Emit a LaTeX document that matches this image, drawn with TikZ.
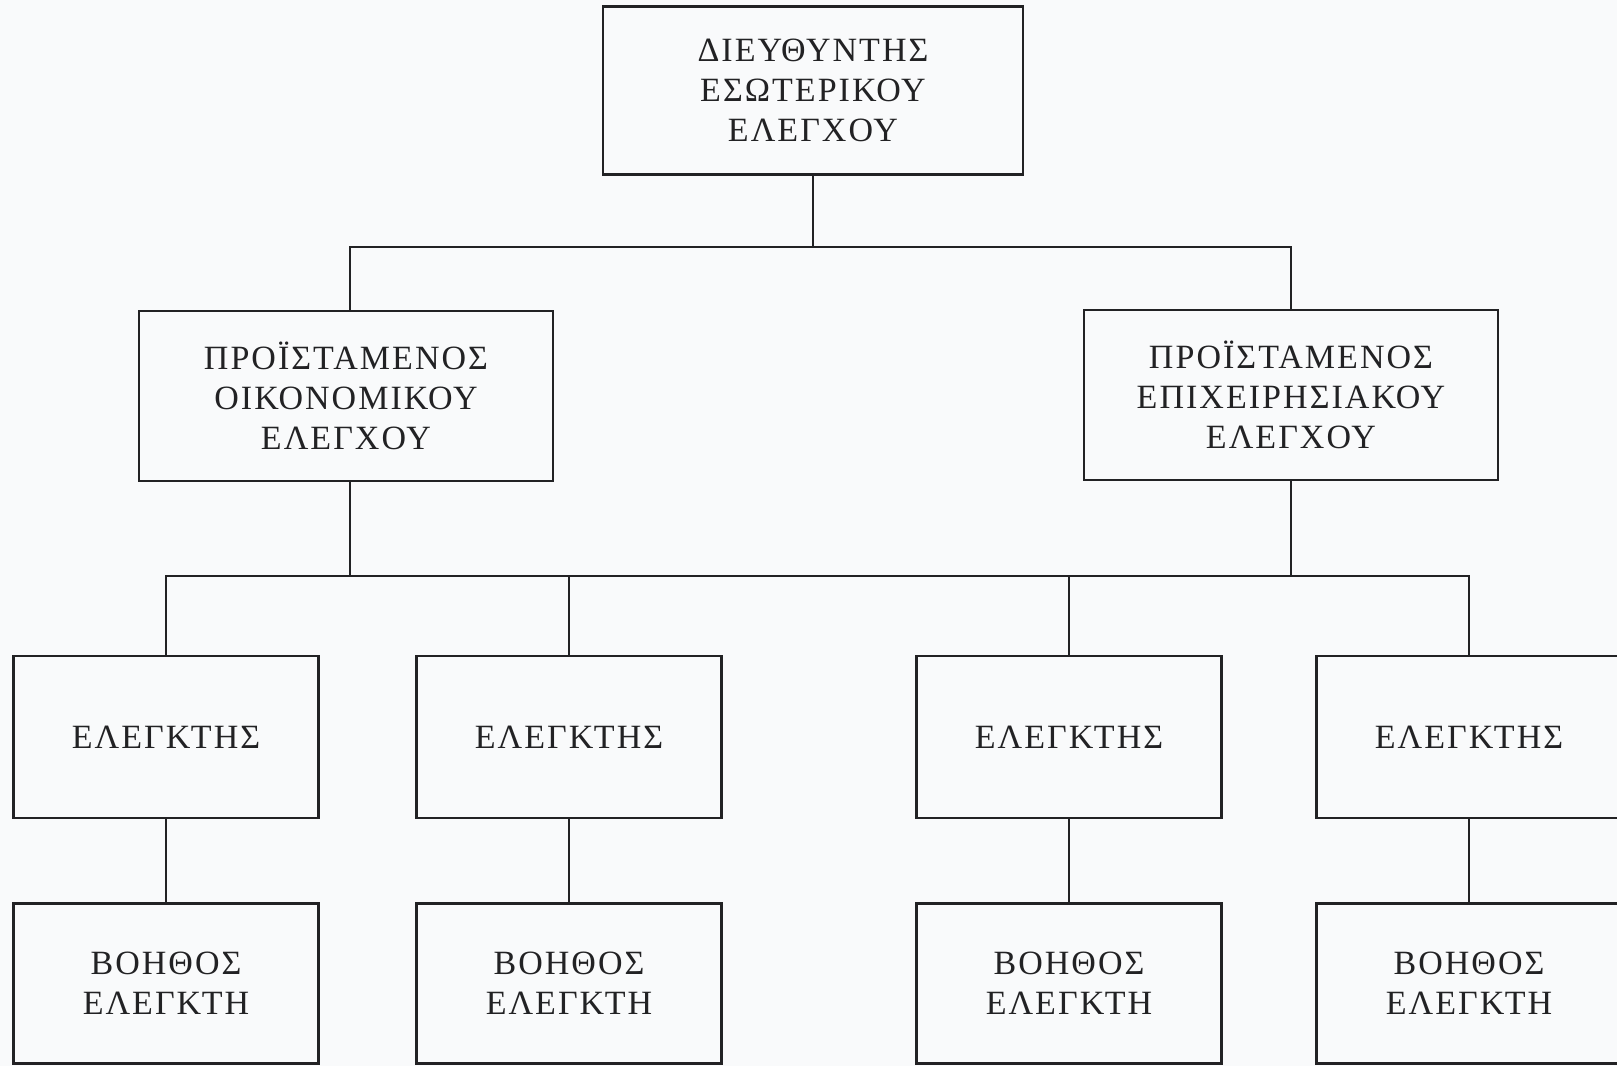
\documentclass[tikz,border=0pt]{standalone}
\usepackage{fontspec}
\setmainfont{Liberation Serif}[LetterSpace=6]

\definecolor{ink}{RGB}{34,34,36}
\definecolor{paper}{RGB}{249,250,251}
\tikzset{
  box/.style={draw=ink, line width=1.1pt, align=center, inner sep=0pt,
    text=ink, font=\fontsize{17}{19.9}\selectfont},
  headbox/.style={box, minimum width=210pt, minimum height=84pt},
  chiefbox/.style={box, minimum width=207pt, minimum height=85pt},
  auditbox/.style={box, minimum width=152.5pt, minimum height=81pt},
  helpbox/.style={box, minimum width=152.5pt, minimum height=80pt}
}

\begin{document}
\begin{tikzpicture}[x=0.5pt,y=-0.5pt]
    \clip (0,0) rectangle (1617,1066);
    \fill[paper] (0,0) rectangle (1617,1066);
    % head and the two chiefs
    \node[headbox] (dir) at (813,90.5) {ΔΙΕΥΘΥΝΤΗΣ\\ΕΣΩΤΕΡΙΚΟΥ\\ΕΛΕΓΧΟΥ};
    \node[chiefbox] (fin) at (346,396) {ΠΡΟΪΣΤΑΜΕΝΟΣ\\ΟΙΚΟΝΟΜΙΚΟΥ\\ΕΛΕΓΧΟΥ};
    \node[chiefbox] (ops) at (1291,395) {ΠΡΟΪΣΤΑΜΕΝΟΣ\\ΕΠΙΧΕΙΡΗΣΙΑΚΟΥ\\ΕΛΕΓΧΟΥ};
    % auditors and their helpers
    \foreach \i/\x in {1/166,2/569,3/1069,4/1469}{
        \node[auditbox] (e\i) at (\x,737) {ΕΛΕΓΚΤΗΣ};
        \node[helpbox] (b\i) at (\x,983.5) {ΒΟΗΘΟΣ\\ΕΛΕΓΚΤΗ};
        \draw[ink, line width=1.1pt] (e\i) -- (b\i);
    }
    \coordinate (top) at (813,247);
    \coordinate (low) at (813,576);
    \coordinate (finup) at (350,396);
    \begin{scope}[ink, line width=1.1pt]
        \draw (dir) -- (top);
        \draw (finup |- fin.north) |- (top) -| (ops.north);
        \draw (finup |- fin.south) -- (finup |- low);
        \draw (ops.south) -- (ops.south |- low);
        \draw (e1.north) |- (low) -| (e4.north);
        \draw (e2.north) -- (e2.north |- low);
        \draw (e3.north) -- (e3.north |- low);
    \end{scope}
\end{tikzpicture}
\end{document}
